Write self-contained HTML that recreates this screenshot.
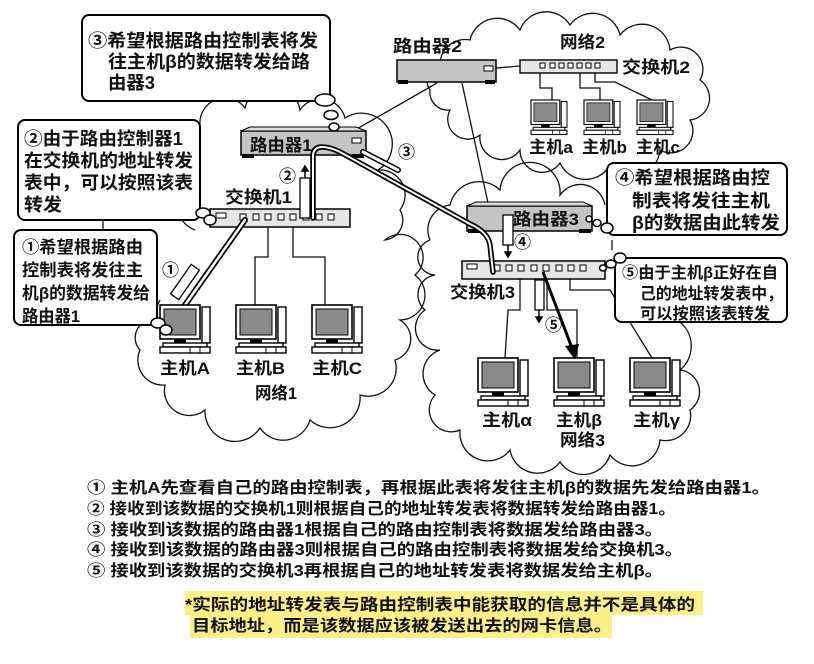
<!DOCTYPE html>
<html><head><meta charset="utf-8"><style>
html,body{margin:0;padding:0;background:#fff;}
svg{display:block;}
text{font-family:"Liberation Sans","Noto Sans CJK SC",sans-serif;font-weight:bold;fill:#111;}
</style></head><body>
<svg width="814" height="664" viewBox="0 0 814 664" xmlns="http://www.w3.org/2000/svg">
<defs>
<g id="mon">
<rect x="0" y="0" width="40" height="34" fill="#fff" stroke="#000" stroke-width="1.6"/>
<rect x="4" y="4" width="32" height="26" fill="#8a8a8a" stroke="#000" stroke-width="1"/>
<rect x="42" y="2" width="8" height="36" fill="#fff" stroke="#000" stroke-width="1.4"/>
<rect x="14" y="34" width="12" height="5" fill="#000"/>
<rect x="3" y="38" width="44" height="4" fill="#fff" stroke="#000" stroke-width="1.4"/>
<rect x="0" y="42" width="50" height="6" fill="#fff" stroke="#000" stroke-width="1.4"/>
<line x1="30" y1="42" x2="30" y2="48" stroke="#000"/><line x1="40" y1="42" x2="40" y2="48" stroke="#000"/>
</g>
</defs>

<!-- clouds -->
<g fill="none" stroke="#111" stroke-width="1.3">
<path d="M200,125 A25,25 0 0 1 245,108 A28,28 0 0 1 300,110 A25,25 0 0 1 345,118 A30,30 0 0 1 378,170 A25,25 0 0 1 400,210 A20,20 0 0 1 385,240 A22,22 0 0 1 415,275 A25,25 0 0 1 400,320 A22,22 0 0 1 395,360 A28,28 0 0 1 360,395 A30,30 0 0 1 310,420 A28,28 0 0 1 260,428 A30,30 0 0 1 205,410 A25,25 0 0 1 165,385 A25,25 0 0 1 140,350 A18,18 0 0 1 150,320 L160,300 M195,230 A28,28 0 0 1 190,180 A30,30 0 0 1 200,125"/>
<path d="M440,65 A25,25 0 0 1 470,40 A28,28 0 0 1 520,30 A28,28 0 0 1 570,25 A28,28 0 0 1 620,35 A28,28 0 0 1 670,50 A22,22 0 0 1 700,80 A22,22 0 0 1 690,120 A22,22 0 0 1 660,150 A28,28 0 0 1 610,165 A28,28 0 0 1 560,163 A22,22 0 0 1 520,150 A22,22 0 0 1 480,135 A20,20 0 0 1 450,110 A18,18 0 0 1 430,90 A16,16 0 0 1 440,65"/>
<path d="M430,240 A25,25 0 0 1 450,205 A30,30 0 0 1 500,190 A30,30 0 0 1 560,195 A25,25 0 0 1 605,205 M612,240 L612,250 M640,322 A30,30 0 0 1 680,370 A22,22 0 0 1 690,410 A25,25 0 0 1 660,440 A28,28 0 0 1 610,455 A28,28 0 0 1 560,462 A28,28 0 0 1 510,450 A28,28 0 0 1 460,430 A22,22 0 0 1 435,395 A25,25 0 0 1 440,350 A22,22 0 0 1 425,310 A20,20 0 0 1 435,275 A18,18 0 0 1 430,240"/>
</g>

<!-- thin connectors -->
<g stroke="#111" stroke-width="1.3" fill="none">
<line x1="355" y1="130" x2="437" y2="83"/>
<line x1="462" y1="83" x2="488" y2="203"/>
<line x1="496" y1="68" x2="520" y2="66"/>
<path d="M268,222 V257 H255 V305"/>
<path d="M293,222 V257 H325 V305"/>
<line x1="103" y1="220" x2="103" y2="231"/>
<path d="M540,72 V88 H552 V100"/>
<path d="M580,72 V88 H600 V100"/>
<path d="M595,72 V82 H615 L652,100"/>
<path d="M520,272 V310 H508 L505,358"/>
<path d="M547,272 V310 H577 V358"/>
<path d="M570,272 V290 H610 L652,358"/>
</g>

<!-- router2 -->
<rect x="397" y="60" width="99" height="22" fill="#c4c4c4" stroke="#000" stroke-width="1.5"/>
<rect x="398" y="80" width="10" height="4" fill="#000"/><rect x="485" y="80" width="10" height="4" fill="#000"/>
<rect x="484" y="66" width="9" height="5" fill="#fff" stroke="#000"/>
<!-- switch2 -->
<rect x="520" y="60" width="97" height="13" fill="#e6e6e6" stroke="#000" stroke-width="1.4"/>
<g fill="#fff" stroke="#000"><rect x="540" y="63" width="5" height="5"/><rect x="550" y="63" width="5" height="5"/><rect x="559" y="63" width="5" height="5"/><rect x="568" y="63" width="5" height="5"/><rect x="577" y="63" width="5" height="5"/><rect x="586" y="63" width="5" height="5"/><rect x="595" y="63" width="5" height="5"/></g>

<!-- router1 -->
<rect x="241" y="131" width="125" height="24" fill="#c4c4c4" stroke="#000" stroke-width="1.5"/>
<polygon points="241,131 250,127 356,127 366,131" fill="#ddd" stroke="#000"/>
<rect x="242" y="154" width="12" height="4" fill="#000"/><rect x="352" y="154" width="12" height="4" fill="#000"/>
<rect x="352" y="138" width="9" height="5" fill="#fff" stroke="#000"/>
<!-- switch1 -->
<rect x="210" y="209" width="140" height="18" fill="#e6e6e6" stroke="#000" stroke-width="1.5"/>
<g fill="#fff" stroke="#000"><rect x="216" y="213" width="10" height="5"/><rect x="240" y="214" width="6" height="6"/><rect x="253" y="214" width="6" height="6"/><rect x="265" y="214" width="6" height="6"/><rect x="278" y="214" width="6" height="6"/><rect x="290" y="214" width="6" height="6"/><rect x="303" y="214" width="6" height="6"/><rect x="316" y="214" width="6" height="6"/><rect x="328" y="214" width="6" height="6"/></g>
<!-- router3 -->
<rect x="467" y="206" width="125" height="25" fill="#c4c4c4" stroke="#000" stroke-width="1.5"/>
<polygon points="467,206 476,202 583,202 592,206" fill="#ddd" stroke="#000"/>
<rect x="468" y="229" width="12" height="4" fill="#000"/><rect x="579" y="229" width="12" height="4" fill="#000"/>
<!-- switch3 -->
<rect x="462" y="261" width="143" height="18" fill="#e6e6e6" stroke="#000" stroke-width="1.5"/>
<g fill="#fff" stroke="#000"><rect x="467" y="264" width="10" height="5"/><rect x="494" y="265" width="6" height="6"/><rect x="506" y="265" width="6" height="6"/><rect x="518" y="265" width="6" height="6"/><rect x="531" y="265" width="6" height="6"/><rect x="543" y="265" width="6" height="6"/><rect x="556" y="265" width="6" height="6"/><rect x="568" y="265" width="6" height="6"/><rect x="580" y="265" width="6" height="6"/></g>

<!-- thick double paths -->
<g fill="none" stroke-linecap="round" stroke-linejoin="round">
<path d="M185,305 L245,220" stroke="#000" stroke-width="6"/>
<path d="M185,305 L245,220" stroke="#fff" stroke-width="2.5"/>
<path d="M313,218 V155 Q314,147 322,147 Q330,147 340,152 L470,224 Q488,232 490,245 L493,272" stroke="#000" stroke-width="5.5"/>
<path d="M313,218 V155 Q314,147 322,147 Q330,147 340,152 L470,224 Q488,232 490,245 L493,272" stroke="#fff" stroke-width="2"/>
<path d="M363,152 L398,170" stroke="#000" stroke-width="6"/>
<path d="M363,152 L398,170" stroke="#fff" stroke-width="3"/>
</g>
<!-- packets -->
<g fill="#fff" stroke="#000" stroke-width="1.3">
<rect x="-5" y="-18" width="10" height="36" transform="translate(185,282) rotate(35)"/>
<rect x="300" y="178" width="10" height="40"/>
<rect x="503" y="215" width="10" height="30"/>
<rect x="535" y="280" width="9" height="30"/>
</g>
<g stroke="#000" stroke-width="1.5" fill="#000">
<line x1="305" y1="178" x2="305" y2="170"/><polygon points="302,171 308,171 305,166"/>
<line x1="508" y1="245" x2="508" y2="253"/><polygon points="505,252 511,252 508,257"/>
<line x1="539" y1="310" x2="539" y2="318"/><polygon points="536,317 542,317 539,322"/>
</g>
<!-- arrow 5 -->
<line x1="543" y1="272" x2="572" y2="348" stroke="#000" stroke-width="3"/>
<polygon points="565,346 579,344 575,360" fill="#000"/>

<!-- monitors -->
<use href="#mon" x="160" y="305"/><use href="#mon" x="236" y="305"/><use href="#mon" x="312" y="305"/>
<use href="#mon" transform="translate(531,100) scale(0.72)"/><use href="#mon" transform="translate(584,100) scale(0.72)"/><use href="#mon" transform="translate(637,100) scale(0.72)"/>
<use href="#mon" x="478" y="358"/><use href="#mon" x="554" y="358"/><use href="#mon" x="630" y="358"/>

<!-- callouts -->
<g fill="#fff" stroke="#000" stroke-width="2">
<rect x="82" y="15" width="248" height="86" rx="7"/>
<rect x="18" y="120" width="182" height="100" rx="7"/>
<rect x="14" y="230" width="143" height="95" rx="7"/>
<rect x="607" y="163" width="180" height="72" rx="7"/>
<rect x="615" y="258" width="172" height="64" rx="7"/>
</g>
<g fill="#fff" stroke="#000" stroke-width="1.5">
<ellipse cx="325" cy="100" rx="10" ry="6"/><ellipse cx="331" cy="115" rx="7" ry="4.5"/><ellipse cx="334" cy="127" rx="5" ry="4"/>
<ellipse cx="203" cy="213" rx="7" ry="5"/><ellipse cx="210" cy="220" rx="6" ry="5"/>
<ellipse cx="158" cy="323" rx="7" ry="5"/><ellipse cx="166" cy="330" rx="6" ry="5"/>
<ellipse cx="607" cy="228" rx="6" ry="5"/><ellipse cx="597" cy="223" rx="4" ry="3.5"/><ellipse cx="589" cy="219" rx="3" ry="3"/>
<ellipse cx="620" cy="258" rx="6" ry="5"/><ellipse cx="611" cy="264" rx="5" ry="4"/><ellipse cx="603" cy="268" rx="3.5" ry="3"/>
</g>

<!-- callout text -->
<g font-size="18" lengthAdjust="spacingAndGlyphs">
<text x="88" y="47" textLength="230" lengthAdjust="spacingAndGlyphs">③希望根据路由控制表将发</text>
<text x="108" y="68" textLength="202" lengthAdjust="spacingAndGlyphs">往主机β的数据转发给路</text>
<text x="108" y="89" textLength="47" lengthAdjust="spacingAndGlyphs">由器3</text>
<text x="24" y="145" textLength="159" lengthAdjust="spacingAndGlyphs">②由于路由控制器1</text>
<text x="24" y="167" textLength="169" lengthAdjust="spacingAndGlyphs">在交换机的地址转发</text>
<text x="24" y="189" textLength="169" lengthAdjust="spacingAndGlyphs">表中，可以按照该表</text>
<text x="24" y="211" textLength="38" lengthAdjust="spacingAndGlyphs">转发</text>
<text x="22" y="253" font-size="17" textLength="121" lengthAdjust="spacingAndGlyphs">①希望根据路由</text>
<text x="22" y="276" font-size="17" textLength="121" lengthAdjust="spacingAndGlyphs">控制表将发往主</text>
<text x="22" y="299" font-size="17" textLength="128" lengthAdjust="spacingAndGlyphs">机β的数据转发给</text>
<text x="22" y="322" font-size="17" textLength="58" lengthAdjust="spacingAndGlyphs">路由器1</text>
<text x="615" y="184" textLength="155" lengthAdjust="spacingAndGlyphs">④希望根据路由控</text>
<text x="632" y="207" textLength="138" lengthAdjust="spacingAndGlyphs">制表将发往主机</text>
<text x="632" y="229" textLength="148" lengthAdjust="spacingAndGlyphs">β的数据由此转发</text>
<text x="622" y="278" font-size="16" textLength="156" lengthAdjust="spacingAndGlyphs">⑤由于主机β正好在自</text>
<text x="640" y="299" font-size="16" textLength="143" lengthAdjust="spacingAndGlyphs">己的地址转发表中，</text>
<text x="640" y="319" font-size="16" textLength="130" lengthAdjust="spacingAndGlyphs">可以按照该表转发</text>
</g>

<!-- labels -->
<g font-size="17">
<text x="250" y="151" textLength="62" lengthAdjust="spacingAndGlyphs">路由器1</text>
<text x="225" y="203" textLength="67" lengthAdjust="spacingAndGlyphs">交换机1</text>
<text x="160" y="374" textLength="50" lengthAdjust="spacingAndGlyphs">主机A</text>
<text x="236" y="374" textLength="49" lengthAdjust="spacingAndGlyphs">主机B</text>
<text x="312" y="374" textLength="50" lengthAdjust="spacingAndGlyphs">主机C</text>
<text x="255" y="399" textLength="42" lengthAdjust="spacingAndGlyphs">网络1</text>
<text x="393" y="52" textLength="69" lengthAdjust="spacingAndGlyphs">路由器2</text>
<text x="560" y="48" textLength="45" lengthAdjust="spacingAndGlyphs">网络2</text>
<text x="622" y="73" textLength="68" lengthAdjust="spacingAndGlyphs">交换机2</text>
<text x="529" y="153" textLength="44" lengthAdjust="spacingAndGlyphs">主机a</text>
<text x="582" y="153" textLength="45" lengthAdjust="spacingAndGlyphs">主机b</text>
<text x="636" y="153" textLength="44" lengthAdjust="spacingAndGlyphs">主机c</text>
<text x="513" y="225" textLength="66" lengthAdjust="spacingAndGlyphs">路由器3</text>
<text x="450" y="298" textLength="65" lengthAdjust="spacingAndGlyphs">交换机3</text>
<text x="482" y="426" textLength="50" lengthAdjust="spacingAndGlyphs">主机α</text>
<text x="556" y="426" textLength="46" lengthAdjust="spacingAndGlyphs">主机β</text>
<text x="633" y="426" textLength="47" lengthAdjust="spacingAndGlyphs">主机γ</text>
<text x="560" y="446" textLength="45" lengthAdjust="spacingAndGlyphs">网络3</text>
<text x="162" y="276">①</text>
<text x="279" y="182">②</text>
<text x="398" y="158">③</text>
<text x="514" y="248">④</text>
<text x="545" y="331">⑤</text>
</g>

<!-- bottom notes -->
<rect x="185" y="591" width="518" height="24" fill="#fbef86"/>
<rect x="190" y="614" width="422" height="24" fill="#fbef86"/>
<g font-size="16">
<text x="87" y="493" textLength="683" lengthAdjust="spacingAndGlyphs">① 主机A先查看自己的路由控制表，再根据此表将发往主机β的数据先发给路由器1。</text>
<text x="87" y="514" textLength="589" lengthAdjust="spacingAndGlyphs">② 接收到该数据的交换机1则根据自己的地址转发表将数据转发给路由器1。</text>
<text x="87" y="535" textLength="576" lengthAdjust="spacingAndGlyphs">③ 接收到该数据的路由器1根据自己的路由控制表将数据发给路由器3。</text>
<text x="87" y="555" textLength="596" lengthAdjust="spacingAndGlyphs">④ 接收到该数据的路由器3则根据自己的路由控制表将数据发给交换机3。</text>
<text x="87" y="576" textLength="576" lengthAdjust="spacingAndGlyphs">⑤ 接收到该数据的交换机3再根据自己的地址转发表将数据发给主机β。</text>
<text x="185" y="610" textLength="510" lengthAdjust="spacingAndGlyphs">*实际的地址转发表与路由控制表中能获取的信息并不是具体的</text>
<text x="192" y="631" textLength="420" lengthAdjust="spacingAndGlyphs">目标地址，而是该数据应该被发送出去的网卡信息。</text>
</g>
</svg>
</body></html>
